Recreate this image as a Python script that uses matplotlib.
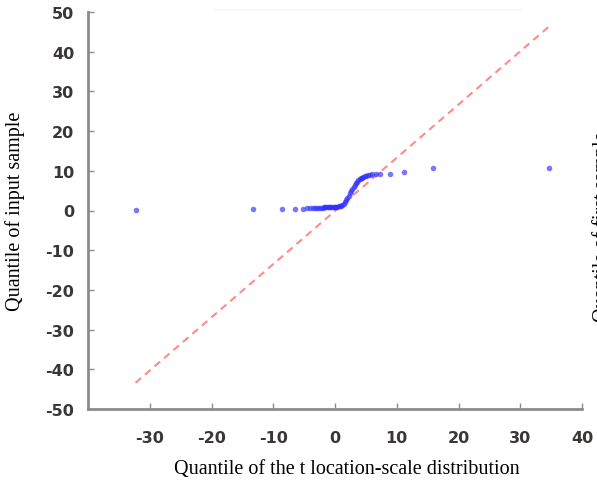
import numpy as np
import matplotlib
matplotlib.use("Agg")
import matplotlib.pyplot as plt
from matplotlib.lines import Line2D

plt.rcParams['axes.unicode_minus'] = False

# theoretical quantiles (t location-scale) vs sample quantiles
t_quantiles = [-32.3, -13.3, -8.6, -6.5, -5.2, -4.5, -4.0, -3.6, -3.2, -2.9,
               -2.6, -2.3, -2.0, -1.8, -1.6, -1.4, -1.2, -1.0, -0.8, -0.6,
               -0.4, -0.2, 0.0, 0.2, 0.4, 0.6, 0.8, 1.0,
               1.2, 1.4, 1.6, 1.8, 2.0, 2.2, 2.4, 2.6, 2.8, 3.0, 3.2, 3.4,
               3.6, 3.8, 4.0, 4.2, 4.4, 4.6, 4.8, 5.0, 5.3, 5.6, 6.0, 6.6,
               7.3, 8.9, 11.2, 15.9, 34.7]
sample_quantiles = [0.1, 0.5, 0.5, 0.5, 0.5, 0.55, 0.6, 0.6, 0.65, 0.7,
                    0.7, 0.75, 0.75, 0.8, 0.8, 0.8, 0.85, 0.85, 0.9, 0.9,
                    0.9, 0.95, 0.95, 1.0, 1.0, 1.05, 1.1, 1.2,
                    1.4, 1.7, 2.1, 2.6, 3.1, 3.7, 4.3, 4.9, 5.5, 6.0, 6.5, 6.9,
                    7.3, 7.6, 7.9, 8.1, 8.3, 8.5, 8.7, 8.8, 8.95, 9.05, 9.15, 9.3,
                    9.3, 9.3, 9.8, 10.7, 10.7]

# reference line endpoints
ref_x = [-32.3, 34.7]
ref_y = [-43.4, 46.4]

xticks = [-30, -20, -10, 0, 10, 20, 30, 40]
yticks = [-50, -40, -30, -20, -10, 0, 10, 20, 30, 40, 50]

fig = plt.figure(figsize=(5.97, 4.85), dpi=100)
ax = fig.add_axes([88 / 597, 75 / 485, 494 / 597, 397 / 485])

ax.plot(ref_x, ref_y, color='#ff8a8a', lw=1.5, dashes=(3.5, 2.5), zorder=2)
ax.plot(t_quantiles, sample_quantiles, 'o', color='#3030ff', alpha=0.65,
        markersize=4, markeredgewidth=0, zorder=3)

ax.set_xlim(-40, 40)
ax.set_ylim(-50, 50)
ax.set_xticks(xticks)
ax.set_yticks(yticks)

for side in ['top', 'right']:
    ax.spines[side].set_visible(False)
for side in ['left', 'bottom']:
    ax.spines[side].set_color('#8c8c8c')
    ax.spines[side].set_linewidth(2)

ax.tick_params(direction='in', length=4, width=1, colors='#8c8c8c',
               labelcolor='#3a3636', labelsize=11.5)
ax.tick_params(axis='y', pad=10)
ax.tick_params(axis='x', pad=15)
for lab in ax.get_xticklabels() + ax.get_yticklabels():
    lab.set_fontweight('bold')

fig.text(347 / 597, 1 - 470 / 485, 'Quantile of the t location-scale distribution',
         family='Liberation Serif', fontsize=14.5, ha='center', va='center')
fig.text(15 / 597, 1 - 211 / 485, 'Quantile of input sample',
         family='Liberation Serif', fontsize=14.5, ha='center', va='center',
         rotation=90)
# neighbouring panel's label, clipped at the edge
fig.text(592 / 597, 1 - 322 / 485, 'Quantile of first sample',
         family='Liberation Serif', fontsize=14.5, ha='left', va='bottom',
         rotation=90)

# faint rule along the top
fig.add_artist(Line2D([215 / 597, 520 / 597], [1 - 10 / 485, 1 - 10 / 485],
                      color='#f3f3f3', lw=1))

fig.savefig('out.png', dpi=100)
